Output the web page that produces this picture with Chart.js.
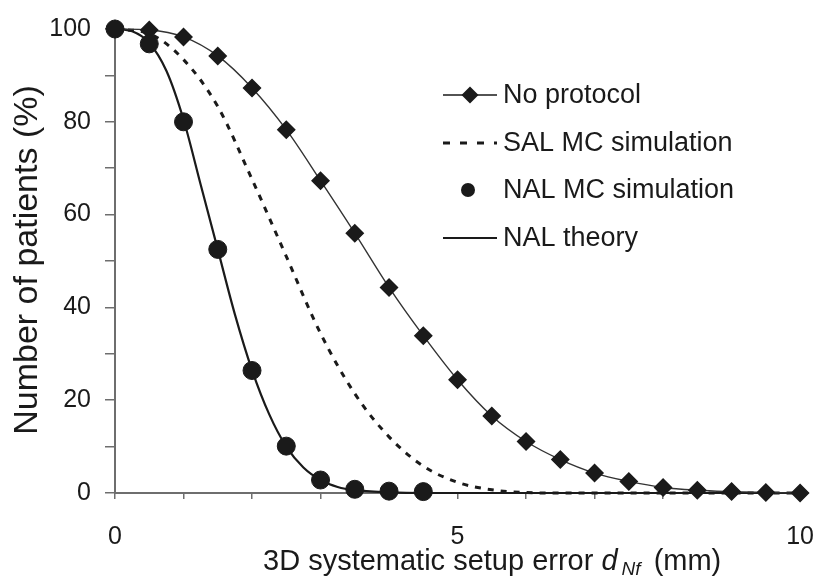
<!DOCTYPE html>
<html>
<head>
<meta charset="utf-8">
<script src="https://cdn.jsdelivr.net/npm/chart.js@4"></script>
<style>
  body { margin: 0; background: #fff; }
  canvas { display: block; }
</style>
</head>
<body>
<canvas id="chart" width="837" height="582"></canvas>
<script>
// values
const noProtocolX = [0,0.5,1,1.5,2,2.5,3,3.5,4,4.5,5,5.5,6,6.5,7,7.5,8,8.5,9,9.5,10]
const noProtocolY = [100,99.8,98.3,94.2,87.3,78.3,67.3,56,44.3,33.9,24.4,16.6,11.1,7.2,4.3,2.5,1.2,0.6,0.3,0.1,0]

const salX = [0,0.5,1,1.5,2,2.5,3,3.5,4,4.5,5,5.5,6,6.5,10]
const salY = [100,99,93.4,83.3,67.6,51,34.4,21.4,12.1,5.8,2.3,0.7,0.1,0,0]

const nalMcX = [0,0.5,1,1.5,2,2.5,3,3.5,4,4.5]
const nalMcY = [100,96.8,80,52.5,26.4,10.1,2.8,0.8,0.4,0.3]

const nalTheoryX = [0,0.25,0.5,0.75,1,1.25,1.5,1.75,2,2.25,2.5,2.75,3,3.25,3.5,4,4.5,5,10]
const nalTheoryY = [100,99.5,97,91,80.5,66.5,52.5,38.5,26.5,17,10,5.5,2.8,1.3,0.6,0.15,0,0,0]

const legendLabels = ["No protocol","SAL MC simulation","NAL MC simulation","NAL theory"]
const xTitle = ["3D systematic setup error ", "d", "Nf", " (mm)"]
const yTitle = "Number of patients (%)"

const FONT = "'Liberation Sans', Arial, sans-serif"
const ink = "#1a1a1a"
const axisGrey = "#6e6e6e"

const pts = (xs, ys) => xs.map((x, i) => ({x: x, y: ys[i]}))

// legend + axis titles drawn by hand
const extras = {
    id: 'extras',
    afterDraw(chart) {
        const ctx = chart.ctx
        const area = chart.chartArea
        ctx.save()
        ctx.fillStyle = ink
        ctx.strokeStyle = ink

        // y title
        ctx.save()
        ctx.translate(37, (area.top + area.bottom) / 2 - 1)
        ctx.rotate(-Math.PI / 2)
        ctx.font = "34px " + FONT
        ctx.textAlign = "center"
        ctx.textBaseline = "alphabetic"
        ctx.fillText(yTitle, 0, 0)
        ctx.restore()

        // x title with italic d_Nf
        let x = area.left + 148
        const base = 570
        ctx.textBaseline = "alphabetic"
        ctx.textAlign = "left"
        ctx.font = "29px " + FONT
        ctx.fillText(xTitle[0], x, base)
        x += ctx.measureText(xTitle[0]).width
        ctx.font = "italic 29px " + FONT
        ctx.fillText(xTitle[1], x, base)
        x += ctx.measureText(xTitle[1]).width + 4
        ctx.font = "italic 19px " + FONT
        ctx.fillText(xTitle[2], x, base + 5)
        x += ctx.measureText(xTitle[2]).width + 5
        ctx.font = "29px " + FONT
        ctx.fillText(xTitle[3], x, base)

        // legend
        const lx0 = 443, lx1 = 497, tx = 503
        const rows = [95, 143, 190, 238]
        ctx.font = "27px " + FONT
        ctx.textBaseline = "middle"
        rows.forEach((ry, i) => ctx.fillText(legendLabels[i], tx, ry + 1))

        ctx.lineWidth = 1.3
        ctx.beginPath(); ctx.moveTo(lx0, rows[0]); ctx.lineTo(lx1, rows[0]); ctx.stroke()
        ctx.beginPath()
        ctx.moveTo(470, rows[0] - 8.5); ctx.lineTo(478.5, rows[0]); ctx.lineTo(470, rows[0] + 8.5); ctx.lineTo(461.5, rows[0])
        ctx.closePath(); ctx.fill()

        ctx.lineWidth = 3
        ctx.setLineDash([7, 10])
        ctx.beginPath(); ctx.moveTo(lx0, rows[1]); ctx.lineTo(lx1, rows[1]); ctx.stroke()
        ctx.setLineDash([])

        ctx.beginPath(); ctx.arc(468, rows[2], 7, 0, Math.PI * 2); ctx.fill()

        ctx.lineWidth = 2
        ctx.beginPath(); ctx.moveTo(lx0, rows[3]); ctx.lineTo(lx1, rows[3]); ctx.stroke()
        ctx.restore()
    }
}

const chart = new Chart(document.getElementById('chart'), {
    type: "line",
    data: {
        datasets: [
            {
                label: legendLabels[2],
                data: pts(nalMcX, nalMcY),
                showLine: false,
                pointStyle: "circle",
                pointRadius: 9,
                pointBackgroundColor: ink,
                pointBorderColor: ink,
                clip: false,
                order: 0
            },
            {
                label: legendLabels[0],
                data: pts(noProtocolX, noProtocolY),
                borderColor: "#333",
                borderWidth: 1.4,
                cubicInterpolationMode: "monotone",
                pointStyle: "rectRot",
                pointRadius: 8.5,
                pointBackgroundColor: ink,
                pointBorderColor: ink,
                clip: false,
                order: 1
            },
            {
                label: legendLabels[3],
                data: pts(nalTheoryX, nalTheoryY),
                borderColor: ink,
                borderWidth: 2.2,
                cubicInterpolationMode: "monotone",
                pointRadius: 0,
                clip: false,
                order: 2
            },
            {
                label: legendLabels[1],
                data: pts(salX, salY),
                borderColor: ink,
                borderWidth: 3,
                borderDash: [6, 7],
                cubicInterpolationMode: "monotone",
                pointRadius: 0,
                clip: false,
                order: 3
            }
        ]
    },
    options: {
        responsive: false,
        animation: false,
        events: [],
        layout: { padding: { top: 27, right: 30, left: 0, bottom: 0 } },
        plugins: { legend: { display: false }, tooltip: { enabled: false } },
        scales: {
            x: {
                type: "linear",
                min: 0,
                max: 10,
                afterFit: s => { s.height = 89 },
                border: { display: true, color: axisGrey, width: 2 },
                grid: { drawOnChartArea: false, drawTicks: true, tickLength: 6, color: axisGrey, lineWidth: 1.5 },
                ticks: {
                    stepSize: 1,
                    autoSkip: false,
                    maxRotation: 0,
                    padding: 23,
                    color: ink,
                    font: { size: 25, family: FONT },
                    callback: v => (v % 5 === 0 ? v : "")
                }
            },
            y: {
                min: 0,
                max: 100,
                afterFit: s => { s.width = 115 },
                border: { display: true, color: axisGrey, width: 2 },
                grid: { drawOnChartArea: false, drawTicks: true, tickLength: 10, color: axisGrey, lineWidth: 1.5 },
                ticks: {
                    stepSize: 10,
                    autoSkip: false,
                    padding: 14,
                    color: ink,
                    font: { size: 25, family: FONT },
                    callback: v => (v % 20 === 0 ? v : "")
                }
            }
        }
    },
    plugins: [extras]
})
</script>
</body>
</html>
